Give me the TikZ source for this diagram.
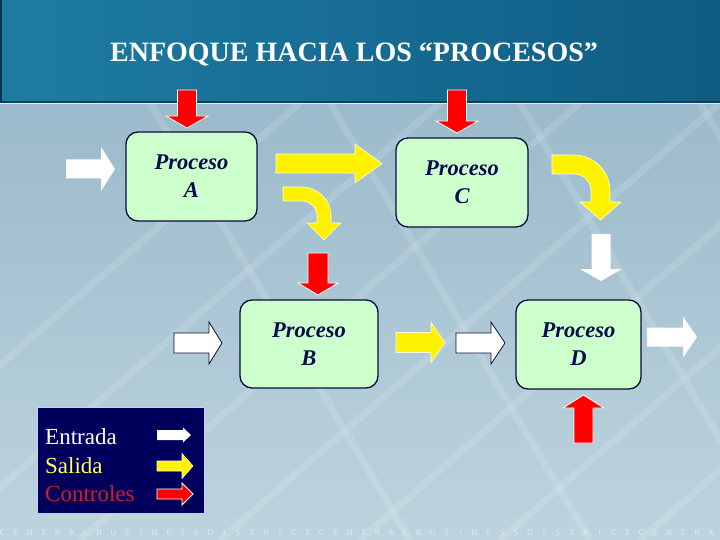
\documentclass[tikz,border=0pt]{standalone}
\usepackage{fontspec}
\setmainfont{Liberation Serif}
\definecolor{boxfill}{HTML}{CCFFCC}
\definecolor{boxline}{HTML}{0A0A40}
\definecolor{navytext}{HTML}{0A0A4A}
\definecolor{legbg}{HTML}{00005C}
\definecolor{ctrlred}{HTML}{D01E2A}
\definecolor{salyel}{HTML}{FFFF66}
\definecolor{topA}{HTML}{1E7CA4}
\definecolor{topB}{HTML}{0F5C84}
\definecolor{bodyT}{HTML}{9BBACB}
\definecolor{bodyM}{HTML}{5E89A3}
\definecolor{bodyB}{HTML}{BDD4DE}
\newcommand{\blkR}[7]{\path[#1] (#2,#5-#6) -- (#3,#5-#6) -- (#3,#5-#7) -- (#4,#5) -- (#3,#5+#7) -- (#3,#5+#6) -- (#2,#5+#6) -- cycle;}
\newcommand{\blkV}[7]{\path[#1] (#2-#6,#3) -- (#2-#6,#4) -- (#2-#7,#4) -- (#2,#5) -- (#2+#7,#4) -- (#2+#6,#4) -- (#2+#6,#3) -- cycle;}
\begin{document}
\begin{tikzpicture}[x=1pt,y=-1pt,
  proc/.style={draw=boxline, line width=1.3pt, fill=boxfill, rounded corners=12pt,
    align=center, inner sep=0pt, text=navytext,
    font=\fontsize{22.5}{28}\selectfont\bfseries\itshape},
  redarr/.style={fill=red, draw=white, line width=0.8pt},
  yelarr/.style={fill=yellow, draw=white!85!yellow, line width=0.6pt},
  whtarr/.style={fill=white},
  whtout/.style={fill=white, draw=boxline, line width=0.8pt},
  legtext/.style={anchor=base west, inner sep=0pt, font=\fontsize{23}{26}\selectfont}]
\useasboundingbox (0,0) rectangle (720,540);
% background
\shade[top color=bodyT, middle color=bodyM, bottom color=bodyB] (0,103) rectangle (720,540);
\begin{scope}[white, opacity=0.13, line width=7pt]
  \foreach \s in {-200,-60,80,220,360,500,640} {\draw (\s,540) -- (\s+500,103);}
  \foreach \s in {150,330,520,700} {\draw (\s,103) -- (\s+260,540);}
\end{scope}
\shade[left color=topA, right color=topB] (0,0) rectangle (720,102);
\draw[line width=2pt, color=topB!70!black] (0,102) -- (720,102);
\draw[line width=1pt, color=white!75!bodyT] (0,104) -- (720,104);
\draw[line width=2.5pt, color=topB!60!black] (1,0) -- (1,102);
% title
\node[anchor=base, text=white, font=\fontsize{28}{32}\selectfont\bfseries] (title) at (354,62) {ENFOQUE HACIA LOS “PROCESOS”};
% process boxes
\node[proc, minimum width=131pt, minimum height=89pt] (A) at (191.5,176.5) {Proceso\\A};
\node[proc, minimum width=132pt, minimum height=89pt] (C) at (462,182.5) {Proceso\\C};
\node[proc, minimum width=138pt, minimum height=88pt] (B) at (309,344) {Proceso\\B};
\node[proc, minimum width=125pt, minimum height=89pt] (D) at (578.5,344.5) {Proceso\\D};
% control arrows (red)
\blkV{redarr}{187}{90}{116}{128}{9.5}{21}
\blkV{redarr}{457}{90}{121}{133}{9.5}{21}
\blkV{redarr}{318}{253}{283}{295}{10}{20}
\blkV{redarr}{583.5}{443}{408}{395}{9.5}{20.5}
% white down arrow above D
\blkV{whtarr}{601}{234}{269}{281}{9.5}{21}
% horizontal arrows
\blkR{whtarr}{66}{101}{115}{169}{9.5}{22}
\blkR{yelarr}{276}{355}{382}{163.5}{9.5}{19.5}
\blkR{whtout}{174}{209}{222}{343}{10}{21}
\blkR{yelarr}{396}{431}{445}{342.5}{10}{20}
\blkR{whtout}{456}{491}{505}{343}{10}{21}
\blkR{whtarr}{647}{683}{697}{337}{9.5}{20.5}
% curved output arrows
\path[yelarr] (283,187) -- (302,187) arc[start angle=-90, end angle=0, radius=29]
  -- (331,223) -- (341,223) -- (324,240) -- (307,223) -- (317,223) -- (317,216)
  arc[start angle=0, end angle=-90, radius=15] -- (283,201) -- cycle;
\path[yelarr] (552,155) -- (574,155) arc[start angle=-90, end angle=0, radius=36]
  -- (610,202) -- (621,202) -- (600.5,220) -- (580,202) -- (591,202) -- (591,191)
  arc[start angle=0, end angle=-90, radius=17] -- (552,174) -- cycle;
% legend
\node[draw=white!80!blue, line width=0.8pt, fill=legbg, minimum width=167pt, minimum height=106pt, anchor=north west, inner sep=0pt] (legend) at (37,407) {};
\node[legtext, text=white] (ent) at (45,444) {Entrada};
\node[legtext, text=salyel] (sal) at (45,473) {Salida};
\node[legtext, text=ctrlred] (ctl) at (45,501) {Controles};
\blkR{whtarr}{157}{183}{191}{435}{5}{7.5}
\blkR{yelarr}{157}{182}{193}{466}{5}{12.5}
\blkR{redarr}{157}{182}{193}{494}{5}{11}
% faint background lettering
\foreach \l [count=\i] in {C,E,N,T,R,A,L,B,U,S,I,N,E,S,S,D,I,S,T,R,I,C,T,C,E,N,T,R,A,L,B,U,S,I,N,E,S,S,D,I,S,T,R,I,C,T,C,E,N,T,R,A}
  \node[text=white, opacity=0.5, font=\fontsize{8}{8}\selectfont\sffamily, inner sep=0pt] at ({2+(\i-1)*13.9},533) {\l};
\end{tikzpicture}
\end{document}
